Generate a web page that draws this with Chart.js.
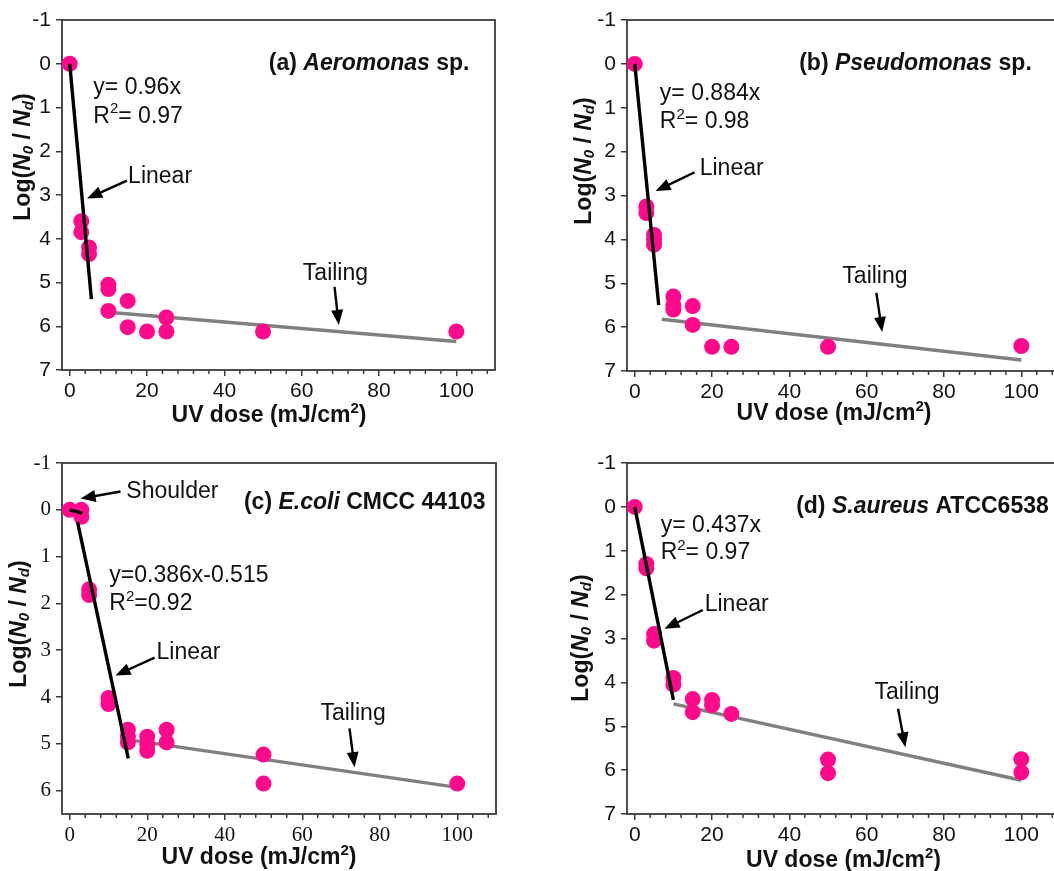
<!DOCTYPE html>
<html>
<head>
<meta charset="utf-8">
<script src="https://cdn.jsdelivr.net/npm/chart.js@4/dist/chart.umd.min.js"></script>
<style>
  html, body { margin: 0; padding: 0; background: #fff; overflow: hidden; width: 1054px; height: 871px; }
  canvas { position: absolute; }
</style>
</head>
<body>
<canvas id="ca" width="527" height="430" style="left:0;top:0"></canvas>
<canvas id="cb" width="560" height="430" style="left:527px;top:0"></canvas>
<canvas id="cc" width="527" height="441" style="left:0;top:430px"></canvas>
<canvas id="cd" width="560" height="441" style="left:527px;top:430px"></canvas>
<script>
// tick labels
const xTicks = [0, 20, 40, 60, 80, 100];
const yTicks7 = [-1, 0, 1, 2, 3, 4, 5, 6, 7];
const yTicks6 = [-1, 0, 1, 2, 3, 4, 5, 6];

// (a) Aeromonas sp.
const doseA = [0, 3, 3, 5, 5, 10, 10, 10, 15, 15, 20, 25, 25, 50, 100];
const logA = [0, 3.6, 3.85, 4.2, 4.35, 5.05, 5.15, 5.65, 5.42, 6.02, 6.12, 5.8, 6.12, 6.12, 6.12];
const linDoseA = [0, 5.6];
const linLogA = [0, 5.38];
const tailDoseA = [10, 100];
const tailLogA = [5.68, 6.35];

// (b) Pseudomonas sp.
const doseB = [0, 3, 3, 5, 5, 5, 10, 10, 10, 15, 15, 20, 25, 50, 100];
const logB = [0, 3.25, 3.4, 3.9, 4.0, 4.12, 5.3, 5.5, 5.6, 5.52, 5.95, 6.45, 6.45, 6.45, 6.43];
const linDoseB = [0, 6.2];
const linLogB = [0, 5.5];
const tailDoseB = [7, 100];
const tailLogB = [5.82, 6.75];

// (c) E.coli CMCC 44103
const doseC = [0, 3, 3, 5, 5, 10, 10, 15, 15, 15, 20, 20, 20, 25, 25, 50, 50, 100];
const logC = [0, 0, 0.15, 1.7, 1.82, 4.02, 4.15, 4.7, 4.85, 4.97, 4.85, 5.02, 5.15, 4.7, 4.97, 5.23, 5.85, 5.85];
const shoulderDoseC = [0, 3.2];
const shoulderLogC = [0, 0.07];
const linDoseC = [2, 15.1];
const linLogC = [0.26, 5.31];
const tailDoseC = [15, 100];
const tailLogC = [4.91, 5.93];

// (d) S.aureus ATCC6538
const doseD = [0, 3, 3, 5, 5, 10, 10, 15, 15, 20, 20, 25, 50, 50, 100, 100];
const logD = [0, 1.3, 1.4, 2.9, 3.05, 3.9, 4.05, 4.38, 4.68, 4.4, 4.52, 4.72, 5.76, 6.07, 5.75, 6.05];
const linDoseD = [0, 10];
const linLogD = [0, 4.4];
const tailDoseD = [10, 100];
const tailLogD = [4.49, 6.23];

const SANS = '"Liberation Sans", Arial, sans-serif';
const SERIF = '"Liberation Serif", "Times New Roman", serif';
const PINK = '#ff0a8c';
const AXIS = '#3a3a3a';
const INK = '#111';

const pts = (xs, ys) => xs.map((x, i) => ({ x: x, y: ys[i] }));

function drawRich(ctx, parts, x, y, align, angle) {
  ctx.save();
  ctx.translate(x, y);
  ctx.rotate(angle || 0);
  let total = 0;
  parts.forEach(p => { ctx.font = p[1]; total += ctx.measureText(p[0]).width; });
  let cx = align === 'center' ? -total / 2 : (align === 'right' ? -total : 0);
  ctx.textAlign = 'left';
  ctx.textBaseline = 'middle';
  ctx.fillStyle = INK;
  parts.forEach(p => {
    ctx.font = p[1];
    ctx.fillText(p[0], cx, p[2] || 0);
    cx += ctx.measureText(p[0]).width;
  });
  ctx.restore();
}

function arrow(ctx, x0, y0, x1, y1) {
  const a = Math.atan2(y1 - y0, x1 - x0);
  const hl = 15, hw = 6;
  ctx.save();
  ctx.strokeStyle = '#000';
  ctx.fillStyle = '#000';
  ctx.lineWidth = 2.4;
  ctx.beginPath();
  ctx.moveTo(x0, y0);
  ctx.lineTo(x1 - Math.cos(a) * hl * 0.8, y1 - Math.sin(a) * hl * 0.8);
  ctx.stroke();
  ctx.beginPath();
  ctx.moveTo(x1, y1);
  ctx.lineTo(x1 - Math.cos(a) * hl - Math.sin(a) * hw, y1 - Math.sin(a) * hl + Math.cos(a) * hw);
  ctx.lineTo(x1 - Math.cos(a) * hl + Math.sin(a) * hw, y1 - Math.sin(a) * hl - Math.cos(a) * hw);
  ctx.closePath();
  ctx.fill();
  ctx.restore();
}

const F = '23px ' + SANS;
const FS = '15px ' + SANS;
const B = 'bold 23px ' + SANS;
const BI = 'italic bold 23px ' + SANS;
const BIS = 'italic bold 15px ' + SANS;

const yTitle = [['Log(', B], ['N', BI], ['0', BIS, 5], [' / ', B], ['N', BI], ['d', BIS, 5], [')', B]];
const xTitle = [['UV dose (mJ/cm', B], ['2', 'bold 15px ' + SANS, -7], [')', B]];

const panels = [
  {
    id: 'ca', dose: doseA, log: logA,
    lines: [[linDoseA, linLogA, '#000'], [tailDoseA, tailLogA, '#808080']],
    yMax: 7, yTicks: yTicks7, tickFont: SANS,
    yWidth: 62, xHeight: 60, top: 20, right: 32,
    title: [['(a) ', B], ['Aeromonas', BI], [' sp.', B]], titleAt: [103.4, 0],
    eq: 'y= 0.96x', r2: '= 0.97', eqAt: [6.1, 0.55, 1.2],
    labels: [['Linear', 15.1, 2.58], ['Tailing', 60.3, 4.79]],
    arrows: [[14.8, 2.67, 4.5, 3.08], [68.5, 5.1, 69.6, 5.97]],
    yTitleAt: [24, 157], xTitleOff: [-9.5, 46]
  },
  {
    id: 'cb', dose: doseB, log: logB,
    lines: [[linDoseB, linLogB, '#000'], [tailDoseB, tailLogB, '#808080']],
    yMax: 7, yTicks: yTicks7, tickFont: SANS,
    yWidth: 100, xHeight: 59, top: 20, right: 27,
    title: [['(b) ', B], ['Pseudomonas', BI], [' sp.', B]], titleAt: [102.7, 0],
    eq: 'y= 0.884x', r2: '= 0.98', eqAt: [6.5, 0.68, 1.32],
    labels: [['Linear', 16.8, 2.38], ['Tailing', 53.7, 4.84]],
    arrows: [[15.5, 2.47, 5.4, 2.9], [62.5, 5.22, 64, 6.11]],
    yTitleAt: [58, 161], xTitleOff: [-9.5, 43]
  },
  {
    id: 'cc', dose: doseC, log: logC,
    lines: [[shoulderDoseC, shoulderLogC, '#000'], [linDoseC, linLogC, '#000'], [tailDoseC, tailLogC, '#808080']],
    yMax: 6.5, yTicks: yTicks6, tickFont: SERIF,
    yWidth: 62, xHeight: 57, top: 33, right: 31,
    title: [['(c) ', B], ['E.coli', BI], [' CMCC 44103', B]], titleAt: [107.3, -0.16],
    eq: 'y=0.386x-0.515', r2: '=0.92', eqAt: [10.2, 1.4, 2.0],
    labels: [['Shoulder', 14.6, -0.39], ['Linear', 22.4, 3.05], ['Tailing', 64.7, 4.35]],
    arrows: [[13.1, -0.39, 2.8, -0.24], [21.9, 3.16, 11.8, 3.54], [72.2, 4.67, 73.5, 5.5]],
    yTitleAt: [20, 194], xTitleOff: [-20, 44]
  },
  {
    id: 'cd', dose: doseD, log: logD,
    lines: [[linDoseD, linLogD, '#000'], [tailDoseD, tailLogD, '#808080']],
    yMax: 7, yTicks: yTicks7, tickFont: SANS,
    yWidth: 100, xHeight: 57, top: 33, right: 27,
    title: [['(d) ', B], ['S.aureus', BI], [' ATCC6538', B]], titleAt: [107.1, 0],
    eq: 'y= 0.437x', r2: '= 0.97', eqAt: [6.7, 0.42, 1.05],
    labels: [['Linear', 18.1, 2.23], ['Tailing', 62, 4.23]],
    arrows: [[17.6, 2.35, 7.7, 2.78], [68.1, 4.6, 70, 5.48]],
    yTitleAt: [55, 208], xTitleOff: [0, 47]
  }
];

const decor = {
  id: 'decor',
  beforeDatasetsDraw(chart) {
    const ctx = chart.ctx, a = chart.chartArea, sx = chart.scales.x;
    ctx.save();
    ctx.strokeStyle = AXIS;
    ctx.lineWidth = 1.8;
    ctx.strokeRect(a.left, a.top, a.right - a.left, a.bottom - a.top);
    // minor ticks every 4 units
    ctx.lineWidth = 1.5;
    for (let v = 4; v <= 108; v += 4) {
      if (v % 20 === 0) continue;
      const px = sx.getPixelForValue(v);
      ctx.beginPath();
      ctx.moveTo(px, a.bottom);
      ctx.lineTo(px, a.bottom + 4);
      ctx.stroke();
    }
    ctx.restore();
  },
  afterDatasetsDraw(chart, args, opts) {
    const p = opts.panel, ctx = chart.ctx, sx = chart.scales.x, sy = chart.scales.y, a = chart.chartArea;
    const X = v => sx.getPixelForValue(v), Y = v => sy.getPixelForValue(v);
    drawRich(ctx, p.title, X(p.titleAt[0]), Y(p.titleAt[1]), 'right');
    drawRich(ctx, [[p.eq, F]], X(p.eqAt[0]), Y(p.eqAt[1]), 'left');
    drawRich(ctx, [['R', F], ['2', FS, -7], [p.r2, F]], X(p.eqAt[0]), Y(p.eqAt[2]), 'left');
    p.labels.forEach(l => drawRich(ctx, [[l[0], F]], X(l[1]), Y(l[2]), 'left'));
    p.arrows.forEach(r => arrow(ctx, X(r[0]), Y(r[1]), X(r[2]), Y(r[3])));
    drawRich(ctx, yTitle, p.yTitleAt[0], p.yTitleAt[1], 'center', -Math.PI / 2);
    drawRich(ctx, xTitle, (a.left + a.right) / 2 + p.xTitleOff[0], a.bottom + p.xTitleOff[1], 'center');
  }
};

panels.forEach(p => {
  const datasets = [{
    data: pts(p.dose, p.log),
    backgroundColor: PINK,
    borderWidth: 0,
    pointRadius: 8,
    order: 1
  }];
  p.lines.forEach(l => {
    datasets.push({
      data: pts(l[0], l[1]),
      showLine: true,
      borderColor: l[2],
      borderWidth: 3.4,
      pointRadius: 0,
      order: l[2] === '#000' ? 0 : 2
    });
  });
  new Chart(document.getElementById(p.id), {
    type: 'scatter',
    data: { datasets: datasets },
    options: {
      responsive: false,
      animation: false,
      layout: { padding: { top: p.top, right: p.right, left: 0, bottom: 0 } },
      plugins: { legend: { display: false }, tooltip: { enabled: false }, decor: { panel: p } },
      scales: {
        x: {
          type: 'linear', min: -2, max: 110,
          afterBuildTicks: s => { s.ticks = xTicks.map(v => ({ value: v })); },
          afterFit: s => { s.height = p.xHeight; },
          grid: { drawOnChartArea: false, tickLength: 6, color: AXIS, lineWidth: 1.5 },
          border: { display: false },
          ticks: { font: { family: p.tickFont, size: 21 }, color: INK, padding: 3, maxRotation: 0 }
        },
        y: {
          type: 'linear', reverse: true, min: -1, max: p.yMax,
          afterBuildTicks: s => { s.ticks = p.yTicks.map(v => ({ value: v })); },
          afterFit: s => { s.width = p.yWidth; },
          grid: { drawOnChartArea: false, tickLength: 6, color: AXIS, lineWidth: 1.5 },
          border: { display: false },
          ticks: { font: { family: p.tickFont, size: 21 }, color: INK, padding: 5 }
        }
      }
    },
    plugins: [decor]
  });
});
</script>
</body>
</html>
